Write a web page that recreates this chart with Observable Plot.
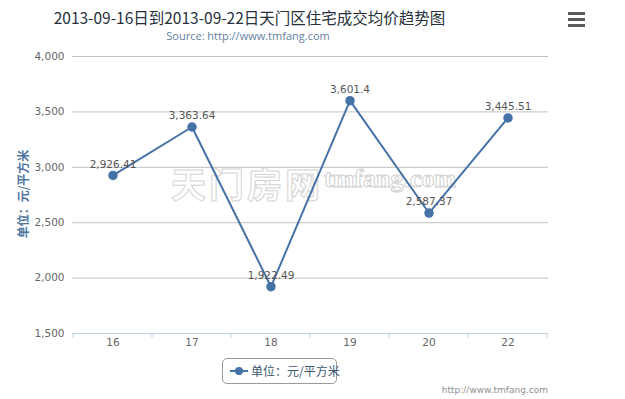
<!DOCTYPE html>
<html>
<head>
<meta charset="utf-8">
<script src="https://cdn.jsdelivr.net/npm/d3@7"></script>
<script src="https://cdn.jsdelivr.net/npm/@observablehq/plot@0.6"></script>
<style>
  html, body { margin: 0; padding: 0; background: #fff; }
  #wrap { position: relative; width: 625px; height: 399px; overflow: hidden; font-family: "DejaVu Sans", sans-serif; }
  #wrap > svg { position: absolute; left: 0; top: 0; }
  .abs { position: absolute; white-space: nowrap; }
  #title { left: 249.5px; top: 6px; transform: translateX(-50%); font-family: "Noto Sans CJK SC", sans-serif; font-size: 15.5px; color: #27313b; line-height: 22px; }
  #subtitle { left: 248px; top: 28px; transform: translateX(-50%); font-family: "Open Sans", "DejaVu Sans", sans-serif; font-size: 11px; color: #5f7f9f; line-height: 16px; }
  #menu { left: 568px; top: 12px; width: 17px; }
  #menu div { height: 3px; background: #5a5a5a; margin-bottom: 3px; }
  #ytitle { left: 22px; top: 194px; transform: translate(-50%, -50%) rotate(-90deg); font-family: "Noto Sans CJK SC", sans-serif; font-size: 12px; font-weight: bold; color: #4d759e; }
  #legend { left: 222px; top: 358px; width: 115px; height: 26px; border: 1px solid #9a9a9a; border-radius: 5px; box-sizing: border-box; }
  #legend svg { position: absolute; left: 7px; top: 6px; }
  #legend span { position: absolute; left: 28px; top: 3px; font-family: "Noto Sans CJK SC", sans-serif; font-size: 12px; color: #3e576f; line-height: 17px; }
  #credit { right: 77px; top: 385px; font-size: 9px; color: #909090; font-family: "DejaVu Sans", sans-serif; }
  #wm1 { left: 171px; top: 157px; font-family: "Noto Sans CJK SC", sans-serif; font-size: 35px; font-weight: bold; color: #fff; -webkit-text-stroke: 1px #d4d4d4; letter-spacing: 3px; }
  #wm2 { left: 324px; top: 164px; font-family: "Liberation Serif", serif; font-size: 26px; font-weight: bold; color: #fff; -webkit-text-stroke: 1px #d0d0d0; }
</style>
</head>
<body>
<div id="wrap">
  <div class="abs" id="wm1">天门房网</div>
  <div class="abs" id="wm2">tmfang.com</div>
</div>
<script>
const days = ["16", "17", "18", "19", "20", "22"];
const prices = [2926.41, 3363.64, 1922.49, 3601.4, 2587.37, 3445.51];
const yTicks = [1500, 2000, 2500, 3000, 3500, 4000];
const titleText = "2013-09-16日到2013-09-22日天门区住宅成交均价趋势图";
const subtitleText = "Source: http://www.tmfang.com";
const seriesName = "单位：元/平方米";
const creditText = "http://www.tmfang.com";

const data = days.map((d, i) => ({day: d, price: prices[i]}));
const fmtLabel = v => d3.format(",")(v);
const lineColor = "#4572A7";

// band boundary tick marks (Highcharts-style "between" ticks)
function bandTicks(index, scales, values, dimensions) {
  const g = d3.create("svg:g");
  const x = scales.x;
  const step = x(days[1]) - x(days[0]);
  const yb = dimensions.height - dimensions.marginBottom;
  const edges = days.map(d => x(d)).concat([x(days[days.length - 1]) + step]);
  for (const ex of edges) {
    g.append("line").attr("x1", ex).attr("x2", ex).attr("y1", yb).attr("y2", yb + 5)
      .attr("stroke", "#C0D0E0").attr("stroke-width", 1);
  }
  return g.node();
}

const chart = Plot.plot({
  width: 625, height: 399,
  marginLeft: 72, marginRight: 77, marginTop: 56, marginBottom: 66,
  style: {background: "transparent", fontFamily: "DejaVu Sans, sans-serif", fontSize: "10.5px", color: "#666"},
  x: {type: "band", domain: days, padding: 0, label: null, axis: null},
  y: {domain: [1500, 4000], ticks: yTicks, label: null, axis: null},
  marks: [
    Plot.gridY(yTicks.slice(1), {stroke: "#C0C0C0", strokeOpacity: 1}),
    Plot.axisY(yTicks, {tickSize: 0, tickPadding: 8, tickFormat: d3.format(","), fill: "#666", fontSize: 10.5, label: null}),
    Plot.axisX(days, {tickSize: 0, tickPadding: 5, fill: "#666", fontSize: 10.5, label: null}),
    Plot.ruleY([1500], {stroke: "#C0D0E0"}),
    bandTicks,
    Plot.line(data, {x: "day", y: "price", stroke: lineColor, strokeWidth: 2}),
    Plot.dot(data, {x: "day", y: "price", r: 4, fill: lineColor, stroke: lineColor}),
    Plot.text(data, {x: "day", y: "price", text: d => fmtLabel(d.price), dy: -11, fill: "#555", fontSize: 10.5})
  ]
});

const wrap = document.getElementById("wrap");
wrap.appendChild(chart);

function addDiv(id, text) {
  const el = document.createElement("div");
  el.className = "abs"; el.id = id;
  if (text != null) el.textContent = text;
  wrap.appendChild(el);
  return el;
}
addDiv("title", titleText);
addDiv("subtitle", subtitleText);
const menu = addDiv("menu");
for (let i = 0; i < 3; i++) menu.appendChild(document.createElement("div"));
addDiv("ytitle", seriesName);
const legend = addDiv("legend");
legend.innerHTML = `<svg width="18" height="12"><line x1="0" y1="6" x2="18" y2="6" stroke="${lineColor}" stroke-width="2"/><circle cx="9" cy="6" r="4" fill="${lineColor}"/></svg>`;
const ls = document.createElement("span"); ls.textContent = seriesName; legend.appendChild(ls);
addDiv("credit", creditText);
</script>
</body>
</html>
